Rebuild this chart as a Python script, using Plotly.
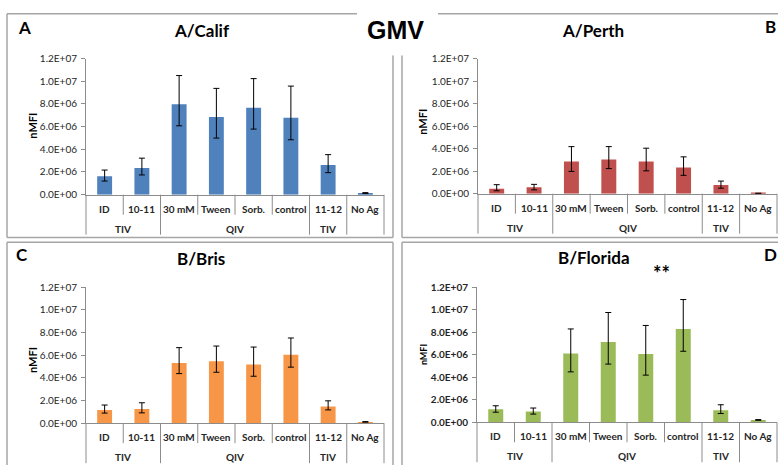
import plotly.graph_objects as go

W, H = 778, 471

categories = ["ID", "10-11", "30 mM", "Tween", "Sorb.", "control", "11-12", "No Ag"]
groups = ["TIV", "TIV", "QIV", "QIV", "QIV", "QIV", "TIV", ""]
y_tick_vals = [0, 2e6, 4e6, 6e6, 8e6, 1e7, 1.2e7]
y_tick_text = ["0.0E+00", "2.0E+06", "4.0E+06", "6.0E+06", "8.0E+06", "1.0E+07", "1.2E+07"]

# Panel A: A/Calif
calif_vals = [1.62e6, 2.36e6, 7.98e6, 6.84e6, 7.66e6, 6.78e6, 2.62e6, 0.14e6]
calif_err_top = [2.17e6, 3.22e6, 10.5e6, 9.37e6, 10.23e6, 9.57e6, 3.53e6, 0.18e6]
calif_err_bot = [1.20e6, 1.74e6, 6.07e6, 4.99e6, 5.78e6, 4.84e6, 1.94e6, 0.10e6]
# Panel B: A/Perth
perth_vals = [0.43e6, 0.57e6, 2.87e6, 3.04e6, 2.87e6, 2.32e6, 0.77e6, 0.03e6]
perth_err_top = [0.80e6, 0.83e6, 4.18e6, 4.18e6, 4.04e6, 3.27e6, 1.12e6, 0.04e6]
perth_err_bot = [0.26e6, 0.34e6, 1.98e6, 2.23e6, 2.03e6, 1.63e6, 0.49e6, 0.02e6]
# Panel C: B/Bris
bris_vals = [1.17e6, 1.26e6, 5.31e6, 5.46e6, 5.17e6, 6.03e6, 1.46e6, 0.11e6]
bris_err_top = [1.60e6, 1.80e6, 6.66e6, 6.80e6, 6.71e6, 7.51e6, 1.97e6, 0.14e6]
bris_err_bot = [0.89e6, 0.91e6, 4.37e6, 4.49e6, 4.14e6, 4.94e6, 1.17e6, 0.09e6]
# Panel D: B/Florida
florida_vals = [1.15e6, 0.95e6, 6.10e6, 7.13e6, 6.05e6, 8.28e6, 1.06e6, 0.20e6]
florida_err_top = [1.46e6, 1.26e6, 8.28e6, 9.74e6, 8.59e6, 10.89e6, 1.55e6, 0.23e6]
florida_err_bot = [0.89e6, 0.72e6, 4.47e6, 5.16e6, 4.18e6, 6.30e6, 0.77e6, 0.17e6]

FONT = "Lato, 'Open Sans', sans-serif"
GRAY = "#a6a6a6"
AXC = "#8c8c8c"

def px(x):
    return x / W

def py(y):
    return 1 - y / H

panels = [
    dict(title="A/Calif", vals=calif_vals, top=calif_err_top, bot=calif_err_bot, color="#4F81BD",
         xd=(86, 384), yd=(193, 53), title_pos=(202, 24), letter="A", letter_pos=(24, 21),
         ylab_pos=(33, 122), ylab_size=11, tick_bold=False),
    dict(title="A/Perth", vals=perth_vals, top=perth_err_top, bot=perth_err_bot, color="#C0504D",
         xd=(478, 777), yd=(192, 53), title_pos=(593, 24), letter="B", letter_pos=(770, 20),
         ylab_pos=(423, 118), ylab_size=11, tick_bold=False),
    dict(title="B/Bris", vals=bris_vals, top=bris_err_top, bot=bris_err_bot, color="#F79646",
         xd=(86, 384), yd=(428, 288), title_pos=(201, 259), letter="C", letter_pos=(22, 255),
         ylab_pos=(33, 363), ylab_size=11, tick_bold=False),
    dict(title="B/Florida", vals=florida_vals, top=florida_err_top, bot=florida_err_bot, color="#9BBB59",
         xd=(477, 777), yd=(427, 288), title_pos=(594, 258), letter="D", letter_pos=(770, 255),
         ylab_pos=(423, 358), ylab_size=9, tick_bold=True),
]

fig = go.Figure()
annotations = []
shapes = []
n = len(categories)

for k, p in enumerate(panels):
    sfx = "" if k == 0 else str(k + 1)
    xa, ya = "x" + sfx, "y" + sfx
    plus = [t - v for t, v in zip(p["top"], p["vals"])]
    minus = [v - b for v, b in zip(p["vals"], p["bot"])]
    fig.add_trace(go.Bar(
        x=categories, y=p["vals"], xaxis=xa, yaxis=ya, width=0.4,
        marker=dict(color=p["color"], line=dict(width=0)),
        error_y=dict(type="data", symmetric=False, array=plus, arrayminus=minus,
                     color="black", thickness=1, width=3),
        showlegend=False,
    ))
    tick_font = dict(family=FONT, size=10, color="#262626")
    if p["tick_bold"]:
        tick_font["weight"] = "bold"
    fig.layout["xaxis" + sfx] = dict(
        domain=[px(p["xd"][0]), px(p["xd"][1])], anchor=ya, range=[-0.5, n - 0.5],
        showticklabels=False, ticks="", showline=True, linecolor=AXC, linewidth=1,
        showgrid=False, zeroline=False, type="category", fixedrange=True,
    )
    fig.layout["yaxis" + sfx] = dict(
        domain=[py(p["yd"][0]), py(p["yd"][1])], anchor=xa, range=[0, 1.2e7],
        tickvals=y_tick_vals, ticktext=y_tick_text, ticks="outside", ticklen=4,
        tickcolor=AXC, showline=True, linecolor=AXC, linewidth=1, showgrid=False,
        zeroline=False, tickfont=tick_font, ticklabelstandoff=2,
    )
    xdom, ydom = xa + " domain", ya + " domain"
    # category labels
    for i, c in enumerate(categories):
        annotations.append(dict(text="<b>%s</b>" % c, xref=xdom, yref=ydom,
                                x=(i + 0.5) / n, y=0, yshift=-14, showarrow=False,
                                xanchor="center", yanchor="middle",
                                font=dict(family=FONT, size=10, color="#262626")))
    # group runs
    runs = []
    start = 0
    for i in range(1, n + 1):
        if i == n or groups[i] != groups[start]:
            runs.append((start, i, groups[start]))
            start = i
    boundaries = set()
    for s, e, g in runs:
        boundaries.add(s)
        boundaries.add(e)
        if g:
            annotations.append(dict(text="<b>%s</b>" % g, xref=xdom, yref=ydom,
                                    x=(s + e) / 2 / n, y=0, yshift=-34, showarrow=False,
                                    xanchor="center", yanchor="middle",
                                    font=dict(family=FONT, size=10, color="#262626")))
    for b in range(n + 1):
        depth = -40 if b in boundaries else -20
        shapes.append(dict(type="line", xref=xdom, yref=ydom, x0=b / n, x1=b / n,
                           ysizemode="pixel", yanchor=0, y0=0, y1=depth,
                           line=dict(color=AXC, width=1)))
    # title, letter, y label
    annotations.append(dict(text="<b>%s</b>" % p["title"], xref="paper", yref="paper",
                            x=px(p["title_pos"][0]), y=py(p["title_pos"][1]), showarrow=False,
                            xanchor="center", yanchor="middle",
                            font=dict(family=FONT, size=17, color="black")))
    annotations.append(dict(text="<b>%s</b>" % p["letter"], xref="paper", yref="paper",
                            x=px(p["letter_pos"][0]), y=py(p["letter_pos"][1]), showarrow=False,
                            xanchor="center", yanchor="middle",
                            font=dict(family=FONT, size=17, color="black")))
    annotations.append(dict(text="<b>nMFI</b>", xref="paper", yref="paper",
                            x=px(p["ylab_pos"][0]), y=py(p["ylab_pos"][1]), showarrow=False,
                            textangle=-90, xanchor="center", yanchor="middle",
                            font=dict(family=FONT, size=p["ylab_size"], color="black")))

annotations.append(dict(text="<b>GMV</b>", xref="paper", yref="paper", x=px(395), y=py(24),
                        showarrow=False, xanchor="center", yanchor="middle",
                        font=dict(family="Liberation Sans, Arial, sans-serif", size=25, color="black")))
annotations.append(dict(text="<b>**</b>", xref="paper", yref="paper", x=px(661), y=py(274),
                        showarrow=False, xanchor="center", yanchor="middle",
                        font=dict(family=FONT, size=20, color="black")))

# panel borders
def seg(x0, y0, x1, y1):
    shapes.append(dict(type="line", xref="paper", yref="paper", x0=px(x0), y0=py(y0),
                       x1=px(x1), y1=py(y1), line=dict(color=GRAY, width=1.5)))

seg(7, 7, 357, 7)
seg(7, 7, 7, 237)
seg(7, 237, 393, 237)
seg(393, 50, 393, 237)
seg(438, 7, 778, 7)
seg(402, 50, 402, 237)
seg(402, 237, 778, 237)
seg(7, 242, 393, 242)
seg(7, 242, 7, 471)
seg(393, 242, 393, 471)
seg(402, 242, 778, 242)
seg(402, 242, 402, 471)

fig.update_layout(
    width=W, height=H, margin=dict(l=0, r=0, t=0, b=0),
    paper_bgcolor="white", plot_bgcolor="white",
    annotations=annotations, shapes=shapes, bargap=0.6,
    font=dict(family=FONT),
)

fig.write_html("out.html")
